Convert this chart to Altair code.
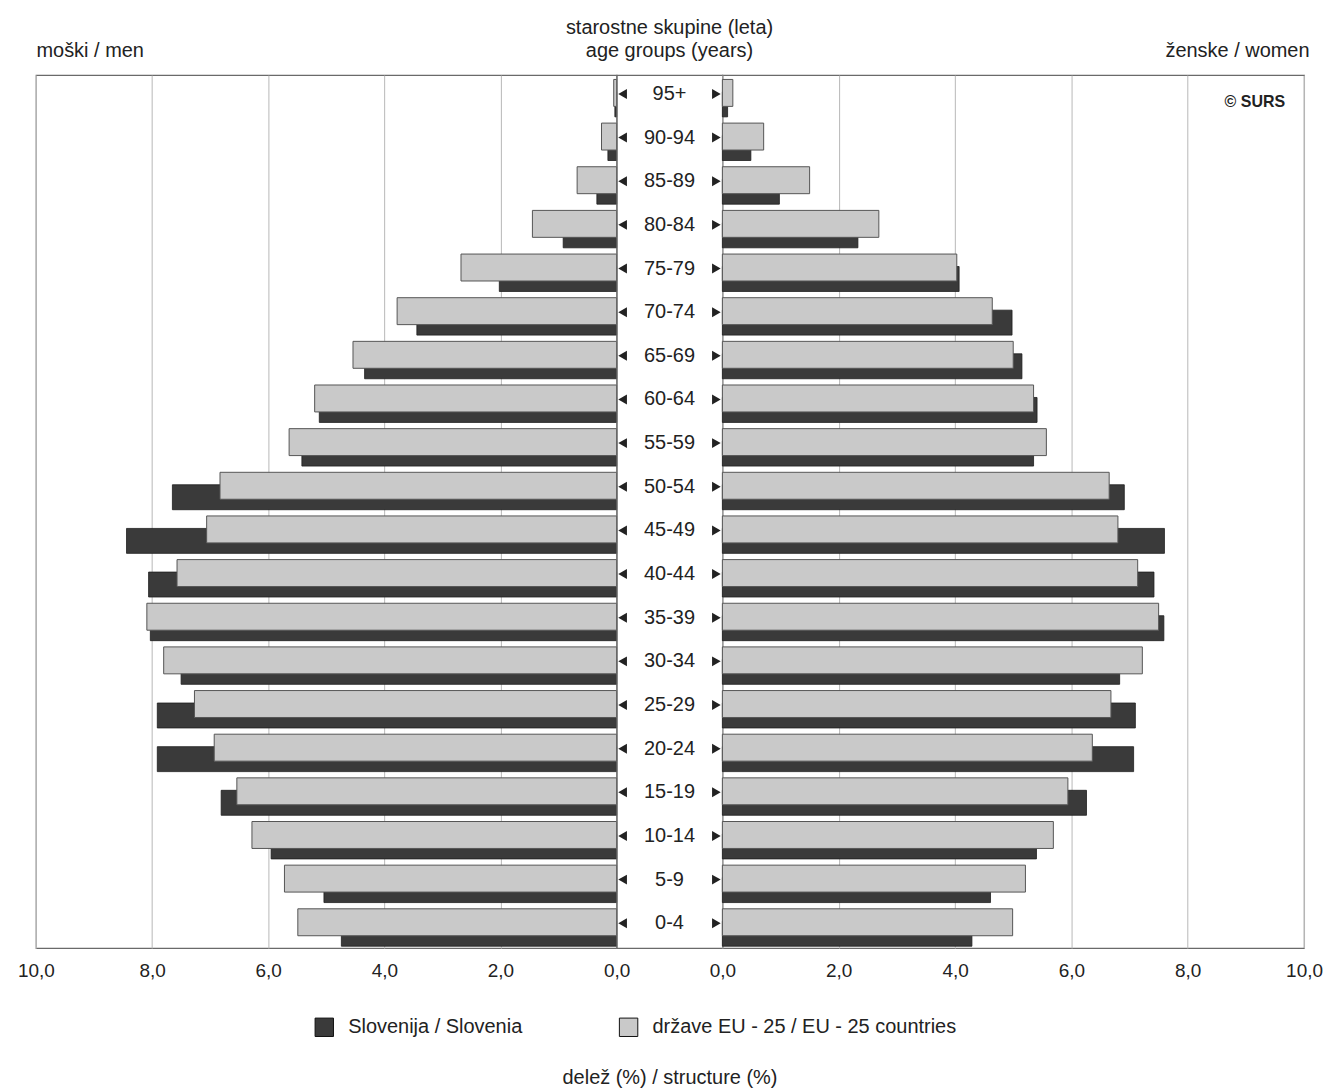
import altair as alt
import pandas as pd

FONT = "Liberation Sans"
INK = "#222222"
FS = 20

ages = ["95+", "90-94", "85-89", "80-84", "75-79", "70-74", "65-69", "60-64",
        "55-59", "50-54", "45-49", "40-44", "35-39", "30-34", "25-29", "20-24",
        "15-19", "10-14", "5-9", "0-4"]

men_si = [0.03, 0.15, 0.34, 0.92, 2.02, 3.44, 4.34, 5.12, 5.42, 7.65,
          8.44, 8.06, 8.03, 7.50, 7.91, 7.91, 6.81, 5.95, 5.04, 4.74]
men_eu = [0.05, 0.26, 0.68, 1.45, 2.68, 3.78, 4.54, 5.20, 5.64, 6.83,
          7.06, 7.57, 8.09, 7.80, 7.27, 6.93, 6.54, 6.28, 5.72, 5.49]
women_si = [0.09, 0.49, 0.98, 2.33, 4.07, 4.98, 5.15, 5.41, 5.35, 6.91,
            7.60, 7.42, 7.59, 6.83, 7.10, 7.07, 6.26, 5.40, 4.61, 4.29]
women_eu = [0.18, 0.71, 1.50, 2.69, 4.03, 4.64, 5.00, 5.35, 5.57, 6.65,
            6.80, 7.14, 7.50, 7.22, 6.68, 6.36, 5.94, 5.69, 5.21, 4.99]

tick_values = [0, 2, 4, 6, 8, 10]
SI = "Slovenija / Slovenia"
EU = "države EU - 25 / EU - 25 countries"

H = 875
W_LEFT = 582
W_MID = 106
W_RIGHT = 583


def frame(vals, series):
    return pd.DataFrame({"age": ages, "value": vals, "series": series})


color = alt.Color(
    "series:N",
    scale=alt.Scale(domain=[SI, EU], range=["#3a3a3a", "#c9c9c9"]),
    legend=alt.Legend(
        title=None, orient="none", legendX=279, legendY=944, direction="horizontal",
        columns=2, columnPadding=94, symbolType="square", symbolSize=340,
        symbolStrokeColor="#111111", symbolStrokeWidth=1, labelFontSize=FS,
        labelFont=FONT, labelColor=INK, labelOffset=14, labelLimit=400,
    ),
)
y = alt.Y("age:N", scale=alt.Scale(domain=ages, paddingInner=0, paddingOuter=0), axis=None)


def panel(si, eu, reverse, title, anchor, dx, width, extra=None):
    xaxis = alt.Axis(
        values=tick_values,
        labelExpr="replace(format(datum.value, '.1f'), '.', ',')",
        ticks=False, domain=False, grid=True, gridColor="#b8b8b8", gridWidth=1,
        title=None, labelFontSize=19, labelFont=FONT, labelColor=INK,
        labelPadding=13, labelFlush=False, labelOverlap=False,
    )
    x = alt.X("value:Q", scale=alt.Scale(domain=[0, 10], reverse=reverse, nice=False), axis=xaxis)
    dark = alt.Chart(frame(si, SI)).mark_bar(
        size=25, yOffset=7.5, stroke="#1e1e1e", strokeWidth=0.8
    ).encode(x=x, y=y, color=color)
    light = alt.Chart(frame(eu, EU)).mark_bar(
        size=27, yOffset=-4, stroke="#555555", strokeWidth=1
    ).encode(x=x, y=y, color=color)
    layers = [dark, light]
    if extra is not None:
        layers.append(extra)
    return alt.layer(*layers).properties(
        width=width, height=H,
        title=alt.TitleParams(
            title, anchor=anchor, baseline="bottom", offset=-6, fontSize=FS,
            fontWeight="normal", font=FONT, color=INK, dx=dx,
        ),
    )


surs = alt.Chart(pd.DataFrame({"t": ["© SURS"]})).mark_text(
    align="right", baseline="middle", fontSize=16, fontWeight="bold", font=FONT, color=INK
).encode(x=alt.value(564), y=alt.value(27), text="t:N")

left = panel(men_si, men_eu, True, "moški / men", "start", 19, W_LEFT)
right = panel(women_si, women_eu, False, "ženske / women", "end", -13, W_RIGHT, surs)

mid_df = pd.DataFrame({"age": ages, "pos": [0] * len(ages)})
mid_x = alt.X(
    "pos:Q", scale=alt.Scale(domain=[-1, 1]),
    axis=alt.Axis(
        title="delež (%) / structure (%)", labels=False, ticks=False, domain=False,
        grid=False, titlePadding=120, titleFontSize=FS, titleFontWeight="normal",
        titleFont=FONT, titleColor=INK,
    ),
)
mid_text = alt.Chart(mid_df).mark_text(
    fontSize=FS, font=FONT, color=INK, yOffset=-3
).encode(x=mid_x, y=y, text="age:N")
arrow_l = alt.Chart(mid_df).mark_point(
    shape="triangle-left", filled=True, size=100, color=INK, opacity=1, yOffset=-3
).encode(x=alt.value(6), y=y)
arrow_r = alt.Chart(mid_df).mark_point(
    shape="triangle-right", filled=True, size=100, color=INK, opacity=1, yOffset=-3
).encode(x=alt.value(100), y=y)

mid = alt.layer(mid_text, arrow_l, arrow_r).properties(
    width=W_MID, height=H,
    title=alt.TitleParams(
        ["starostne skupine (leta)", "age groups (years)"], anchor="middle",
        baseline="bottom", offset=-6, fontSize=FS, fontWeight="normal", font=FONT,
        color=INK, lineHeight=23,
    ),
)

chart = alt.hconcat(left, mid, right, spacing=0, bounds="flush").properties(
    padding={"left": 8, "top": 8, "right": 0, "bottom": 0},
    background="white",
).configure_view(
    stroke="#6a6a6a", strokeWidth=1.2
)

chart.save("out.html", embed_options={"renderer": "svg", "actions": False})
